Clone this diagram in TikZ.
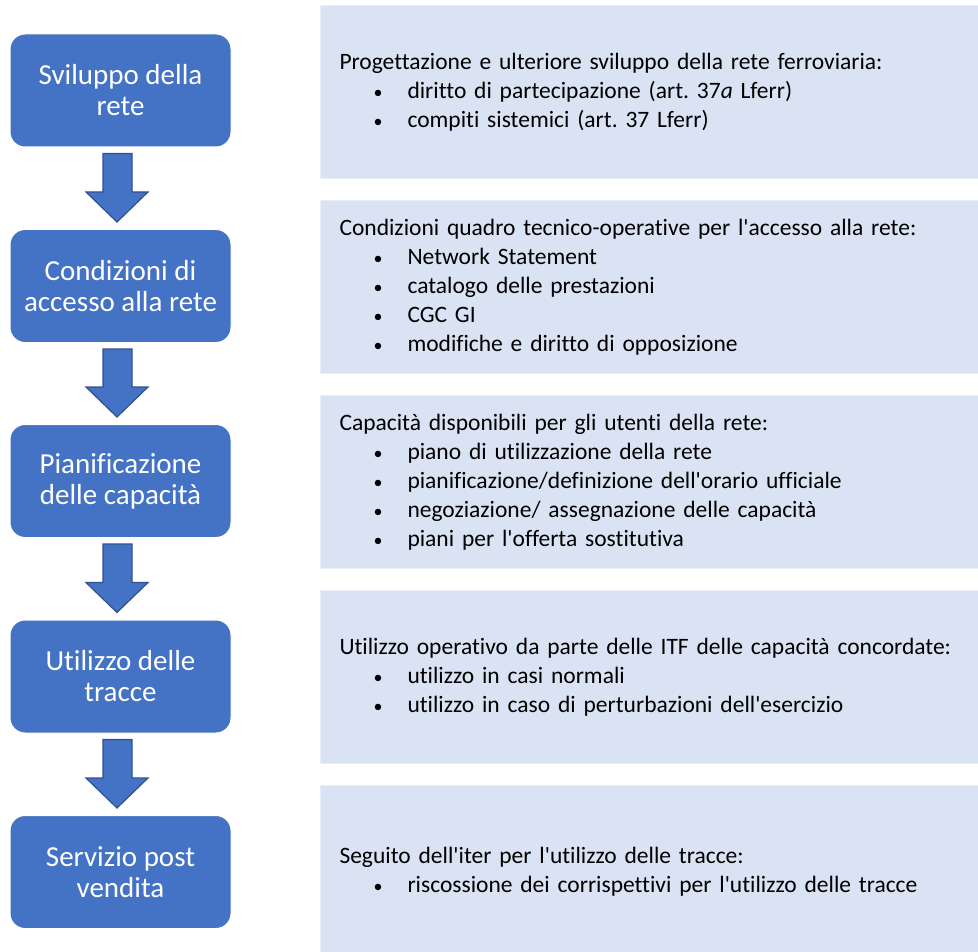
\documentclass[tikz,border=0pt]{standalone}
\usepackage{fontspec}
\setmainfont{Carlito}[Ligatures=NoCommon]
\usepackage{xcolor}
\usepackage{tikz}
\usetikzlibrary{calc}

\definecolor{stageblue}{HTML}{4472C4}
\definecolor{arrowedge}{HTML}{2F528F}
\definecolor{panelblue}{HTML}{DAE3F3}

\frenchspacing
\newcommand{\itm}[1]{\\\hspace*{34pt}\makebox[34pt][l]{\fontsize{18}{18}\selectfont\textbullet}#1}
\newcommand{\ap}{\textquotesingle}

\begin{document}
\begin{tikzpicture}[x=1pt, y=1pt,
	stage/.style={draw=white, line width=1pt, fill=stageblue, rounded corners=15pt, text=white, align=center, minimum width=221pt, minimum height=113pt, inner sep=0pt, font=\fontsize{29}{31}\selectfont},
	panel/.style={anchor=west, draw=panelblue!60!white, line width=1pt, fill=panelblue, align=left, text width=700pt, inner xsep=19pt, inner ysep=0pt, minimum height=173pt, font=\fontsize{23.5}{29}\selectfont},
	flow/.style={draw=arrowedge, line width=1.2pt, fill=stageblue, to path={($(\tikztostart)+(-17.5,-6)$) -- ($(\tikztostart)+(11.5,-6)$) -- ($(\tikztotarget)+(11.5,37)$) -- ($(\tikztotarget)+(27.5,37)$) -- ($(\tikztotarget)+(-3.5,7)$) -- ($(\tikztotarget)+(-34.5,37)$) -- ($(\tikztotarget)+(-17.5,37)$) -- cycle}}]
			\useasboundingbox (0, 0) rectangle (978, -952);
			
			% stages
			\node[stage] (S1) at (120.5, -90.5) {Sviluppo della\\rete};
			\node[stage] (S2) at (120.5, -286) {Condizioni di\\accesso alla rete};
			\node[stage] (S3) at (120.5, -481) {Pianificazione\\delle capacità};
			\node[stage] (S4) at (120.5, -676.5) {Utilizzo delle\\tracce};
			\node[stage] (S5) at (120.5, -872) {Servizio post\\vendita};
			
			% descriptions
			\node[panel] (D1) at (320, -92) {Progettazione e ulteriore sviluppo della rete ferroviaria:\itm{diritto di partecipazione (art. 37\textit{a} Lferr)}\itm{compiti sistemici (art. 37 Lferr)}};
			\node[panel] (D2) at (320, -287) {Condizioni quadro tecnico-operative per l\ap accesso alla rete:\itm{Network Statement}\itm{catalogo delle prestazioni}\itm{CGC GI}\itm{modifiche e diritto di opposizione}};
			\node[panel] (D3) at (320, -482) {Capacità disponibili per gli utenti della rete:\itm{piano di utilizzazione della rete}\itm{pianificazione/definizione dell\ap orario ufficiale}\itm{negoziazione/ assegnazione delle capacità}\itm{piani per l\ap offerta sostitutiva}};
			\node[panel] (D4) at (320, -677) {Utilizzo operativo da parte delle ITF delle capacità concordate:\itm{utilizzo in casi normali}\itm{utilizzo in caso di perturbazioni dell\ap esercizio}};
			\node[panel] (D5) at (320, -872) {Seguito dell\ap iter per l\ap utilizzo delle tracce:\itm{riscossione dei corrispettivi per l\ap utilizzo delle tracce}};
			
			% arrows
			\draw[flow] (S1.south) to (S2.north);
			\draw[flow] (S2.south) to (S3.north);
			\draw[flow] (S3.south) to (S4.north);
			\draw[flow] (S4.south) to (S5.north);
		\end{tikzpicture}
\end{document}
